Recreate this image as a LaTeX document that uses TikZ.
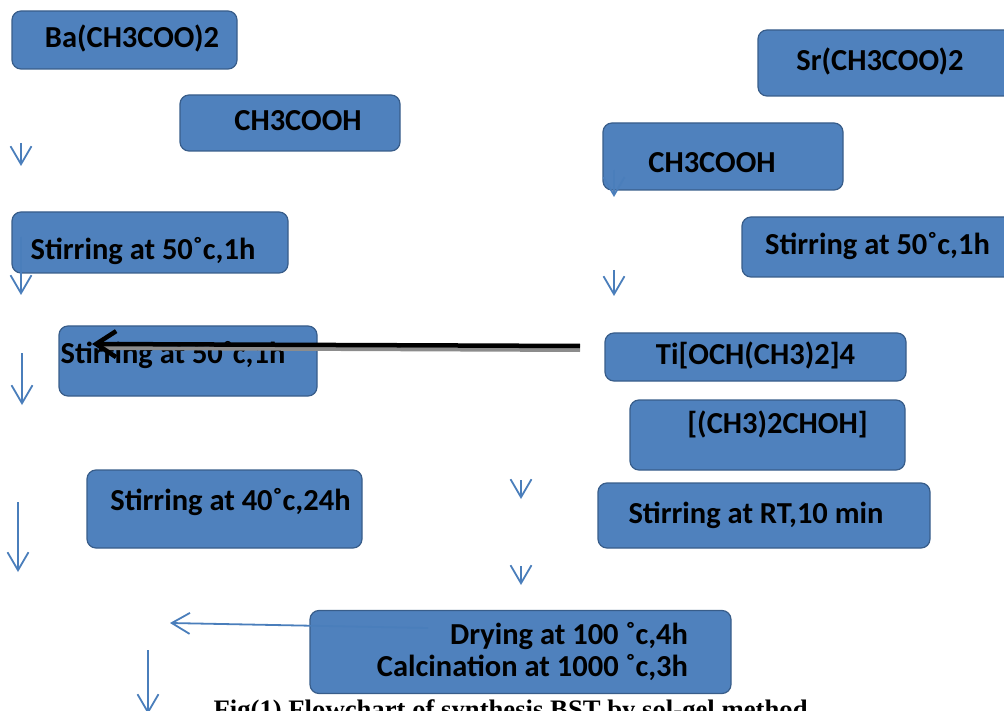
\documentclass[tikz,border=0pt]{standalone}
\usepackage{fontspec}
\setmainfont{Carlito}
\newfontfamily\capfont{Liberation Serif}
\usetikzlibrary{arrows.meta}
\definecolor{cFill}{HTML}{4F81BD}
\definecolor{cEdge}{HTML}{385D8A}
\definecolor{cArrow}{HTML}{4A7EBB}
\definecolor{cShade}{HTML}{8C8C8C}

\begin{document}
\begin{tikzpicture}[
  x=1pt, y=-1pt,
  font=\fontsize{30.5}{32}\selectfont\bfseries,
  panel/.style={draw=cEdge, fill=cFill, rounded corners=9pt, line width=1.2pt, inner sep=0pt},
  box/.style={panel, text height=21pt, text depth=6pt},
  flow/.style={-{Straight Barb[length=18pt,width=21pt,line width=1.8pt]}, draw=cArrow, line width=1.8pt},
  bigflow/.style={-{Straight Barb[length=20pt,width=26pt,line width=4.5pt]}, draw=black, line width=4.5pt},
  shade/.style={draw=cShade, line width=4pt},
]
\useasboundingbox (0,0) rectangle (1004,711);

% ---- barium side
\node[box, minimum width=225pt, minimum height=58pt] (ba) at (124.5,40) {\hspace*{15pt}Ba(CH3COO)2};
\node[box, minimum width=220pt, minimum height=56pt] (acl) at (290,123) {\hspace*{16pt}CH3COOH};
\node[box, minimum width=276pt, minimum height=61pt, text height=41pt] (stla) at (150,242.5) {Stirring at 50˚c,1h\hspace*{14pt}};
\node[box, minimum width=258pt, minimum height=70pt, text depth=16pt] (stlb) at (188,361) {Stirring at 50˚c,1h\hspace*{30pt}};
\node[box, minimum width=275pt, minimum height=78pt, text depth=18pt] (stf) at (224.5,509) {\hspace*{12pt}Stirring at 40˚c,24h};

% ---- strontium / titanium side
\node[box, minimum width=260pt, minimum height=66pt] (sr) at (888,63) {Sr(CH3COO)2\hspace*{16pt}};
\node[box, minimum width=240pt, minimum height=67pt, text height=38pt] (acr) at (723,156.5) {CH3COOH\hspace*{22pt}};
\node[box, minimum width=271pt, minimum height=60pt] (str) at (877.5,247) {Stirring at 50˚c,1h};
\node[box, minimum width=301pt, minimum height=48pt] (ti) at (755.5,357) {Ti[OCH(CH3)2]4};
\node[box, minimum width=275pt, minimum height=70pt, text depth=24pt] (ipa) at (767.5,435) {\hspace*{20pt}[(CH3)2CHOH]};
\node[box, minimum width=332pt, minimum height=65pt] (rt) at (764,515.5) {Stirring at RT,10 min\hspace*{16pt}};

% ---- drying
\node[panel, minimum width=421pt, minimum height=83pt, inner xsep=43pt, text width=335pt, align=flush right] (dry) at (520.5,652)
  {Drying at 100 ˚c,4h\\Calcination at 1000 ˚c,3h};

% ---- arrows
\coordinate (la1) at (21,143);  \coordinate (lb1) at (21,166);
\coordinate (la2) at (21,237);  \coordinate (lb2) at (21,295);
\coordinate (la3) at (22,353);  \coordinate (lb3) at (22,405);
\coordinate (la4) at (18,502);  \coordinate (lb4) at (18,572);
\coordinate (la5) at (148,650); \coordinate (lb5) at (148,714);
\coordinate (ra1) at (614,170); \coordinate (rb1) at (614,197);
\coordinate (ra2) at (614,270); \coordinate (rb2) at (614,296);
\coordinate (ra3) at (521,480); \coordinate (rb3) at (521,499);
\coordinate (ra4) at (521,566); \coordinate (rb4) at (521,585);
\coordinate (dryout) at (428,628); \coordinate (dryend) at (170,623);
\coordinate (bk1) at (580,346); \coordinate (bk2) at (92,344);
\foreach \i in {1,...,5} \draw[flow] (la\i) -- (lb\i);
\foreach \i in {1,...,4} \draw[flow] (ra\i) -- (rb\i);
\draw[flow] (dryout) -- (dryend);
\draw[shade] ([yshift=-4pt]bk1) -- ([yshift=-4pt,xshift=10pt]bk2);
\draw[bigflow] (bk1) -- (bk2);

% ---- caption
\node[font=\capfont\fontsize{26.7}{30}\selectfont\bfseries, anchor=base west] (cap) at (210,718)
  {Fig(1) Flowchart of synthesis BST by sol-gel method};
\end{tikzpicture}
\end{document}
